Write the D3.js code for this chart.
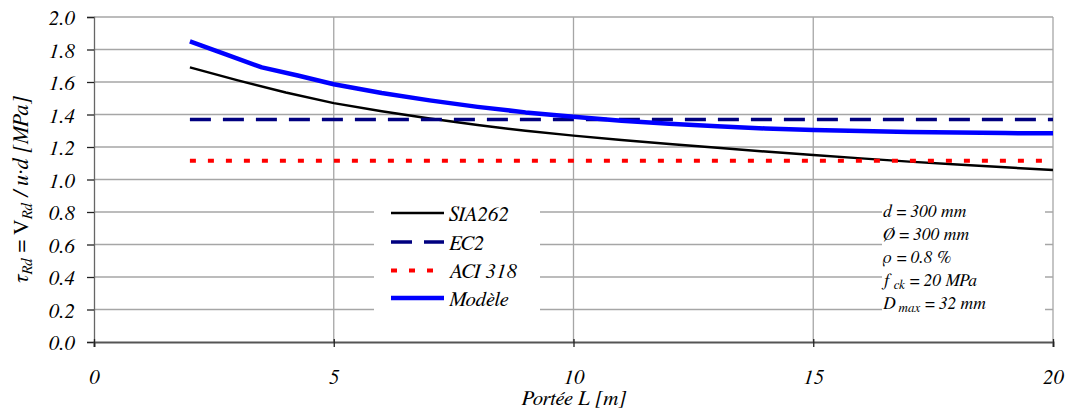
<!DOCTYPE html>
<html><head><meta charset="utf-8">
<script src="https://cdn.jsdelivr.net/npm/d3@7"></script>
<style>body{margin:0;background:#fff}svg{display:block}text{font-family:"FreeSerif","Liberation Serif",serif;font-style:italic}</style>
</head><body><svg id="c" width="1070" height="414"></svg>
<script>
const spans = [2,3,4,5,6,7,8,9,10,11,12,13,14,15,16,17,18,19,20];
const sia262 = [1.69,1.61,1.535,1.47,1.42,1.375,1.335,1.30,1.27,1.243,1.218,1.195,1.172,1.151,1.13,1.11,1.092,1.075,1.058];
const modeleSpans = [2,2.75,3.5,4.25,5,6,7,8,9,10,11,12,13,14,15,16,17,18,19,19.3,20];
const modele = [1.85,1.77,1.69,1.64,1.586,1.532,1.487,1.447,1.413,1.386,1.362,1.343,1.327,1.314,1.305,1.298,1.293,1.289,1.286,1.285,1.285];
const ec2Spans = [2,20];
const ec2 = [1.37,1.37];
const aciSpans = [2,20];
const aci = [1.115,1.115];
const xTicks = [0,5,10,15,20];
const yTicks = [0,0.2,0.4,0.6,0.8,1.0,1.2,1.4,1.6,1.8,2.0];
const legendLabels = ["SIA262","EC2","ACI 318","Modèle"];

const svg = d3.select("#c");
const L = 94, R = 1053, T = 17, B = 342;
const x = d3.scaleLinear().domain([0,20]).range([L,R]);
const y = d3.scaleLinear().domain([0,2]).range([B,T]);

// grid
svg.append("g").selectAll("line").data(yTicks.filter(d=>d>0)).join("line")
  .attr("x1",L).attr("x2",R).attr("y1",d=>y(d)).attr("y2",d=>y(d))
  .attr("stroke","#a6a6a6").attr("stroke-width",1.3);
svg.append("g").selectAll("line").data(xTicks.filter(d=>d>0)).join("line")
  .attr("x1",d=>x(d)).attr("x2",d=>x(d)).attr("y1",T).attr("y2",B)
  .attr("stroke","#a6a6a6").attr("stroke-width",1.3);

// axes
const yAxis = svg.append("g").attr("transform",`translate(${L},0)`)
  .call(d3.axisLeft(y).tickValues(yTicks).tickFormat(d3.format(".1f")).tickSize(7).tickPadding(12));
yAxis.select(".domain").attr("stroke","#666").attr("stroke-width",1.3);
yAxis.selectAll(".tick line").attr("stroke","#222").attr("stroke-width",1.3);
yAxis.selectAll("text").attr("font-size",21).attr("fill","#000").attr("dy","0.36em");

const xAxis = svg.append("g").attr("transform",`translate(0,${B})`)
  .call(d3.axisBottom(x).tickValues(xTicks).tickFormat(d3.format("d")).tickSize(5).tickPadding(22));
xAxis.select(".domain").attr("stroke","#555").attr("stroke-width",2);
xAxis.selectAll(".tick line").attr("stroke","#222").attr("stroke-width",1.3).attr("y1",-3);
xAxis.selectAll("text").attr("font-size",21).attr("fill","#000");

// boxes (legend + annotations)
svg.append("rect").attr("x",374).attr("y",197).attr("width",166).attr("height",120).attr("fill","#fff");
svg.append("rect").attr("x",882).attr("y",198).attr("width",163).attr("height",122).attr("fill","#fff");

const line = d3.line().x(d=>x(d[0])).y(d=>y(d[1]));
const styles = [
  {data: d3.zip(spans,sia262), stroke:"#000", w:2.5, dash:null},
  {data: d3.zip(ec2Spans,ec2), stroke:"#000080", w:3.5, dash:"21,12"},
  {data: d3.zip(aciSpans,aci), stroke:"#ff0000", w:4, dash:"6,12"},
  {data: d3.zip(modeleSpans,modele), stroke:"#0000ff", w:4.5, dash:null}
];
styles.forEach(s=>{
  svg.append("path").attr("d",line(s.data)).attr("fill","none")
    .attr("stroke",s.stroke).attr("stroke-width",s.w)
    .attr("stroke-dasharray",s.dash).attr("stroke-linejoin","round");
});

// legend
const ly = [213,242,270.5,298];
legendLabels.forEach((lab,i)=>{
  const s = styles[i];
  svg.append("line").attr("x1",391).attr("x2",444).attr("y1",ly[i]).attr("y2",ly[i])
    .attr("stroke",s.stroke).attr("stroke-width",s.w).attr("stroke-dasharray",s.dash);
  svg.append("text").attr("x",449).attr("y",ly[i]+7.5).attr("font-size",21).text(lab);
});

// annotations
const ann = svg.append("g").attr("font-size",17.5);
ann.append("text").attr("x",883).attr("y",217).text("d = 300 mm");
ann.append("text").attr("x",883).attr("y",240).text("Ø = 300 mm");
ann.append("text").attr("x",883).attr("y",263).text("ρ  = 0.8 %");
const a4 = ann.append("text").attr("x",883).attr("y",286);
a4.append("tspan").text("f");
a4.append("tspan").attr("font-size",13).attr("dy",3).text(" ck");
a4.append("tspan").attr("dy",-3).text("  = 20 MPa");
const a5 = ann.append("text").attr("x",883).attr("y",309);
a5.append("tspan").text("D");
a5.append("tspan").attr("font-size",13).attr("dy",3).text(" max");
a5.append("tspan").attr("dy",-3).text(" = 32 mm");

// axis titles
svg.append("text").attr("x",574).attr("y",405).attr("text-anchor","middle").attr("font-size",21).text("Portée L [m]");
const yt = svg.append("text").attr("transform","translate(28,190) rotate(-90)").attr("text-anchor","middle").attr("font-size",22);
yt.append("tspan").text("τ");
yt.append("tspan").attr("font-size",15).attr("dy",4).text("Rd");
yt.append("tspan").attr("dy",-4).text(" = ");
yt.append("tspan").attr("font-style","normal").text("V");
yt.append("tspan").attr("font-size",15).attr("dy",4).text("Rd");
yt.append("tspan").attr("dy",-4).text(" / u·d [MPa]");
</script></body></html>
